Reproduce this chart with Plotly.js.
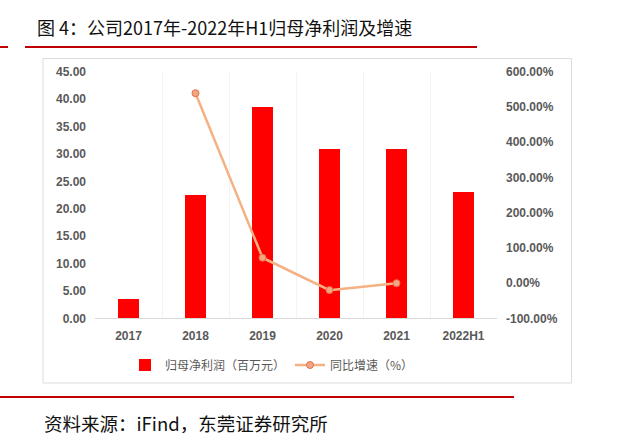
<!DOCTYPE html>
<html>
<head>
<meta charset="utf-8">
<script src="https://cdn.plot.ly/plotly-3.0.1.min.js"></script>
<style>html,body{margin:0;padding:0;background:#fff;}#chart{width:640px;height:448px;}</style>
</head>
<body>
<div id="chart"></div>
<script>
const categories = ["2017", "2018", "2019", "2020", "2021", "2022H1"];
const netProfit = [3.52, 22.45, 38.56, 30.9, 30.84, 23.0];
const growthPct = [null, 539, 72, -20, -0.2, null];
const leftTicks = [0, 5, 10, 15, 20, 25, 30, 35, 40, 45];
const rightTicks = [-100, 0, 100, 200, 300, 400, 500, 600];
const rightTickLabels = ["-100.00%", "0.00%", "100.00%", "200.00%", "300.00%", "400.00%", "500.00%", "600.00%"];
const seriesNames = ["归母净利润（百万元）", "同比增速（%）"];
const titleText = "图 4：公司2017年-2022年H1归母净利润及增速";
const sourceText = "资料来源：iFind，东莞证券研究所";

const W = 640, H = 448;
const px = x => x / W;
const py = y => 1 - y / H;
const tickFont = {family: "Liberation Sans, Arial, sans-serif", size: 12, color: "#595959", weight: 700};
const cjk = "Noto Sans CJK SC, sans-serif";

const traces = [
  {
    type: "bar", x: categories, y: netProfit, name: seriesNames[0],
    marker: {color: "#ff0000"}, width: 0.31, yaxis: "y"
  },
  {
    type: "scatter", mode: "lines+markers", x: categories, y: growthPct, name: seriesNames[1],
    yaxis: "y2", line: {color: "#f4b183", width: 2.5},
    marker: {size: 7, color: "#f4a582", line: {color: "#e2704f", width: 1}},
    connectgaps: false
  }
];

const layout = {
  width: W, height: H,
  margin: {l: 0, r: 0, t: 0, b: 0},
  paper_bgcolor: "#fff", plot_bgcolor: "rgba(0,0,0,0)",
  showlegend: true,
  bargap: 0,
  xaxis: {
    domain: [px(95), px(497)], type: "category", range: [-0.5, 5.5],
    showline: true, linecolor: "#d9d9d9", linewidth: 1,
    showgrid: true, gridcolor: "#f3f3f3", tickson: "boundaries",
    ticks: "", tickfont: tickFont, ticklabelstandoff: 6, fixedrange: true
  },
  yaxis: {
    domain: [py(318.3), py(71.7)], range: [0, 45], tickvals: leftTicks,
    tickformat: ".2f", showgrid: false, zeroline: false, showline: false,
    ticks: "", tickfont: tickFont, ticklabelstandoff: 8
  },
  yaxis2: {
    overlaying: "y", side: "right", anchor: "x",
    range: [-100, 600], tickmode: "array", tickvals: rightTicks, ticktext: rightTickLabels,
    showgrid: false, zeroline: false, showline: false,
    ticks: "", tickfont: tickFont, ticklabelstandoff: 8
  },
  legend: {
    orientation: "h", x: px(272), xanchor: "center", y: py(365), yanchor: "middle",
    font: {family: cjk, size: 12, color: "#595959"},
    itemwidth: 30, tracegroupgap: 0, bgcolor: "rgba(0,0,0,0)"
  },
  shapes: [
    {type: "rect", xref: "paper", yref: "paper", x0: px(43), x1: px(571.5), y0: py(383), y1: py(58.5),
     line: {color: "#dcdcdc", width: 1}, layer: "below"},
    {type: "line", xref: "paper", yref: "paper", x0: px(25), x1: px(477), y0: py(47), y1: py(47),
     line: {color: "#c00000", width: 2}},
    {type: "line", xref: "paper", yref: "paper", x0: px(0), x1: px(8), y0: py(47), y1: py(47),
     line: {color: "#c00000", width: 2}},
    {type: "line", xref: "paper", yref: "paper", x0: px(0), x1: px(514), y0: py(397), y1: py(397),
     line: {color: "#c00000", width: 2}}
  ],
  annotations: [
    {xref: "paper", yref: "paper", x: px(35), y: py(27), xanchor: "left", yanchor: "middle",
     text: titleText, showarrow: false, font: {family: cjk, size: 18, color: "#111"}},
    {xref: "paper", yref: "paper", x: px(42), y: py(423), xanchor: "left", yanchor: "middle",
     text: sourceText, showarrow: false, font: {family: cjk, size: 18.5, color: "#111"}}
  ]
};

Plotly.newPlot("chart", traces, layout, {displayModeBar: false, staticPlot: true});
</script>
</body>
</html>
